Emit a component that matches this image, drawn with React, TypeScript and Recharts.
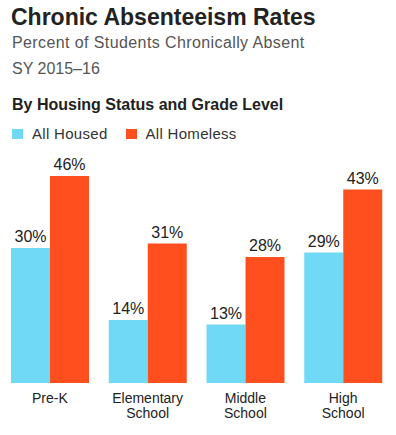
import { BarChart, Bar, XAxis, YAxis, LabelList } from 'recharts'

const categories = ['Pre-K', 'Elementary School', 'Middle School', 'High School']
const housed = [30, 14, 13, 29]
const homeless = [46, 31, 28, 43]

const seriesNames = ['All Housed', 'All Homeless']
const seriesColors = ['#6fd9f6', '#ff4f1e']

const data = categories.map((name, i) => ({
  name,
  housed: housed[i],
  homeless: homeless[i],
}))

const FONT = '"Liberation Sans", Arial, sans-serif'

const CategoryTick = ({ x, y, payload }: { x?: number; y?: number; payload?: { value: string } }) => {
  const words = (payload?.value ?? '').split(' ')
  return (
    <text x={x} y={(y ?? 0) + 12} textAnchor="middle" fill="#222" fontSize={14} fontFamily={FONT}>
      {words.map((w, i) => (
        <tspan key={w} x={x} dy={i === 0 ? 0 : 15}>
          {w}
        </tspan>
      ))}
    </text>
  )
}

export default function App() {
  return (
    <div style={{ position: 'absolute', left: 0, top: 0, width: 396, height: 435, background: '#fff', fontFamily: FONT }}>
      <div style={{ position: 'absolute', left: 11, top: 4, fontSize: 23, fontWeight: 700, color: '#222', whiteSpace: 'nowrap' }}>
        Chronic Absenteeism Rates
      </div>
      <div style={{ position: 'absolute', left: 12, top: 34, fontSize: 16, letterSpacing: 0.4, color: '#555', whiteSpace: 'nowrap' }}>
        Percent of Students Chronically Absent
      </div>
      <div style={{ position: 'absolute', left: 12, top: 60, fontSize: 16, color: '#555', whiteSpace: 'nowrap' }}>
        SY 2015–16
      </div>
      <div style={{ position: 'absolute', left: 12, top: 96, fontSize: 16, fontWeight: 700, color: '#222', whiteSpace: 'nowrap' }}>
        By Housing Status and Grade Level
      </div>
      <div style={{ position: 'absolute', left: 12, top: 125, display: 'flex', alignItems: 'center', fontSize: 15, color: '#333', whiteSpace: 'nowrap' }}>
        {seriesNames.map((n, i) => (
          <div key={n} style={{ display: 'flex', alignItems: 'center', marginRight: 18, letterSpacing: 0.3 }}>
            <span style={{ width: 11, height: 10, background: seriesColors[i], marginRight: 9, display: 'inline-block' }} />
            <span>{n}</span>
          </div>
        ))}
      </div>
      <BarChart
        width={396}
        height={435}
        data={data}
        margin={{ top: 158, right: 4, bottom: 0, left: 1 }}
        barCategoryGap={10}
        barGap={0}
      >
        <XAxis dataKey="name" height={52} axisLine={false} tickLine={false} interval={0} tick={<CategoryTick />} />
        <YAxis hide domain={[0, 50]} />
        <Bar dataKey="housed" name={seriesNames[0]} fill={seriesColors[0]} isAnimationActive={false}>
          <LabelList dataKey="housed" position="top" offset={6} fill="#222" fontSize={16} fontFamily={FONT} formatter={(v: number) => `${v}%`} />
        </Bar>
        <Bar dataKey="homeless" name={seriesNames[1]} fill={seriesColors[1]} isAnimationActive={false}>
          <LabelList dataKey="homeless" position="top" offset={6} fill="#222" fontSize={16} fontFamily={FONT} formatter={(v: number) => `${v}%`} />
        </Bar>
      </BarChart>
    </div>
  )
}
